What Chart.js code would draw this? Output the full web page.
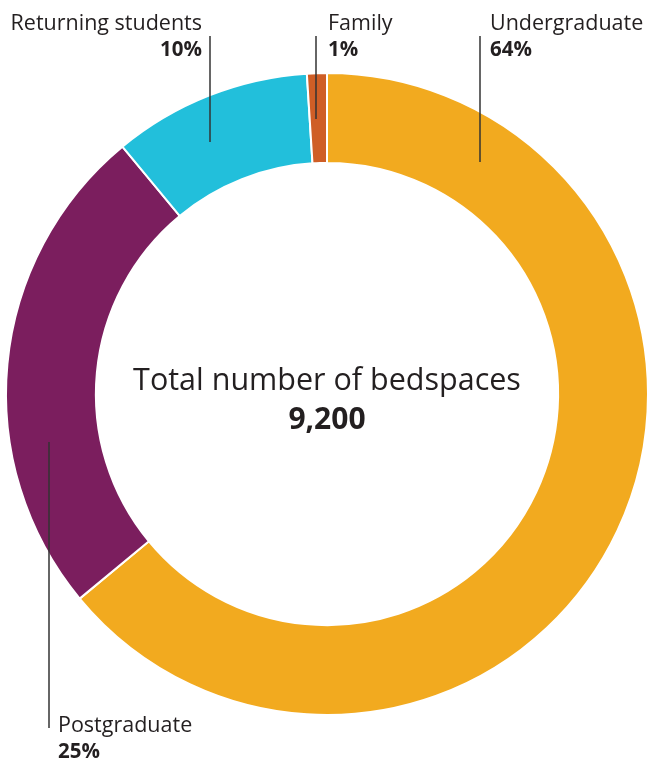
<!DOCTYPE html>
<html>
<head>
<meta charset="utf-8">
<script src="https://cdn.jsdelivr.net/npm/chart.js@4.4.1/dist/chart.umd.min.js"></script>
<style>
  html, body { margin: 0; padding: 0; background: #fff; }
  #wrap { width: 649px; height: 763px; position: relative; }
</style>
</head>
<body>
<div id="wrap"><canvas id="bedChart"></canvas></div>
<script>
var categories = ['Undergraduate', 'Postgraduate', 'Returning students', 'Family'];
var shares = [64, 25, 10, 1];
var colours = ['#F2AA1F', '#7B1E5E', '#22BFDB', '#CF5E26'];
var totalLabel = 'Total number of bedspaces';
var totalValue = '9,200';

// label callouts: text anchor, alignment and leader line (x, top, bottom)
var callouts = [
    { tx: 490, ty: 30, align: 'left',  lx: 480, ly1: 36,  ly2: 162 },
    { tx: 58,  ty: 732, align: 'left', lx: 49,  ly1: 442, ly2: 728 },
    { tx: 202, ty: 30, align: 'right', lx: 210, ly1: 36,  ly2: 142 },
    { tx: 328, ty: 30, align: 'left',  lx: 316, ly1: 36,  ly2: 119 }
];

var FONT = '"Open Sans", "Noto Sans", sans-serif';

var labelPlugin = {
    id: 'labelPlugin',
    afterDraw: function (chart) {
        var c = chart.ctx;
        var meta = chart.getDatasetMeta(0);
        var arc = meta.data[0];
        c.save();
        // centre text
        c.fillStyle = '#231f20';
        c.textAlign = 'center';
        c.textBaseline = 'alphabetic';
        c.font = '400 30.5px ' + FONT;
        c.fillText(totalLabel, arc.x, arc.y - 4);
        c.font = '700 30px ' + FONT;
        c.fillText(totalValue, arc.x, arc.y + 35);
        // callouts
        callouts.forEach(function (o, i) {
            c.strokeStyle = '#333';
            c.lineWidth = 1.5;
            c.beginPath();
            c.moveTo(o.lx, o.ly1);
            c.lineTo(o.lx, o.ly2);
            c.stroke();
            c.textAlign = o.align;
            c.fillStyle = '#231f20';
            c.font = '400 21.5px ' + FONT;
            c.fillText(categories[i], o.tx, o.ty);
            c.font = '700 20.5px ' + FONT;
            c.fillText(chart.data.datasets[0].data[i] + '%', o.tx, o.ty + 26);
        });
        c.restore();
    }
};

var ctx = document.getElementById('bedChart').getContext('2d');
var bedChart = new Chart(ctx, {
    type: 'doughnut',
    data: {
        labels: categories,
        datasets: [{
            data: shares,
            backgroundColor: colours,
            borderColor: '#ffffff',
            borderWidth: 2
        }]
    },
    options: {
        responsive: true,
        maintainAspectRatio: false,
        animation: false,
        cutout: '72%',
        layout: { padding: { left: 5, right: 0, top: 72, bottom: 47 } },
        plugins: {
            legend: { display: false },
            tooltip: { enabled: false }
        }
    },
    plugins: [labelPlugin]
});
</script>
</body>
</html>
